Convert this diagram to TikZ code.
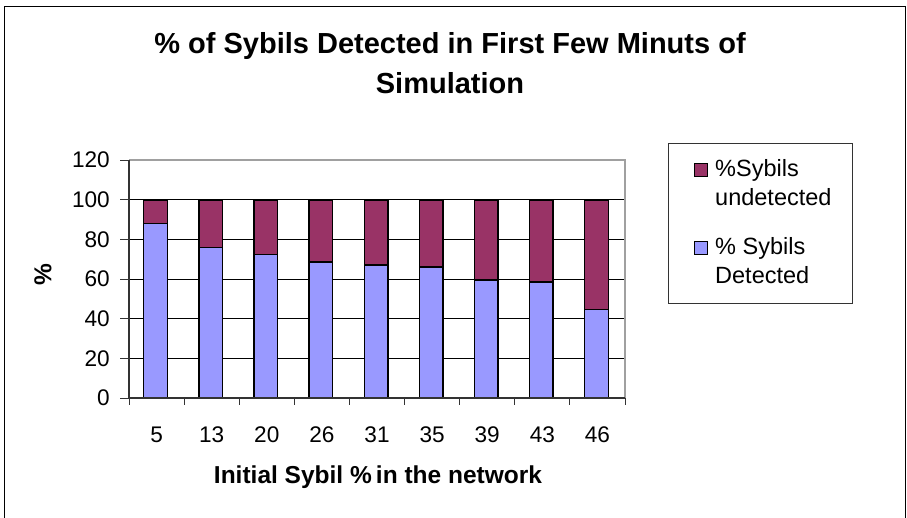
\documentclass[tikz,border=0pt]{standalone}
\usepackage{fontspec}
\setmainfont{Liberation Sans}
\definecolor{detcol}{HTML}{9999FF}
\definecolor{undcol}{HTML}{993366}
\definecolor{framegray}{HTML}{A0A0A0}
\begin{document}
\begin{tikzpicture}[x=1pt,y=-1pt,
  tick/.style={font=\fontsize{22.6}{27}\selectfont, inner sep=0pt},
  legtext/.style={font=\fontsize{23.5}{29}\selectfont, inner sep=0pt, anchor=base west},
  barbox/.style={draw=black, line width=1.4pt},
  grid/.style={draw=black, line width=0.8pt},
  axis/.style={draw=black!80, line width=1.2pt}
]
\useasboundingbox (0,0) rectangle (907,517);
\fill[white] (0,0) rectangle (907,517);
% outer chart frame
\draw[black, line width=1pt] (4.5,520) -- (4.5,6.5) -- (905.5,6.5) -- (905.5,520);
% title
\node[font=\fontsize{29}{40}\selectfont\bfseries, inner sep=0pt, anchor=base] (t1) at (450,53) {\% of Sybils Detected in First Few Minuts of};
\node[font=\fontsize{29}{40}\selectfont\bfseries, inner sep=0pt, anchor=base] (t2) at (450,93) {Simulation};
% plot area
\def\yof#1{398-1.98333*#1}
\foreach \v in {20,40,60,80,100} {
  \draw[grid] (129,{398-1.98333*\v}) -- (625,{398-1.98333*\v});
}
\draw[framegray, line width=1.2pt] (129,160) -- (625,160) -- (625,398);
% bars
\foreach \i/\d in {0/88,1/76,2/72.5,3/68.5,4/67,5/66,6/59.5,7/58.5,8/44.5} {
  \pgfmathsetmacro{\cx}{129+55.111*(\i+0.5)-1}
  \pgfmathsetmacro{\yd}{398-1.98333*\d}
  \filldraw[barbox, fill=detcol] (\cx-11.8,398) rectangle (\cx+11.8,\yd);
  \filldraw[barbox, fill=undcol] (\cx-11.8,\yd) rectangle (\cx+11.8,200.67);
}
% axes
\draw[axis] (129,160) -- (129,398) -- (625,398);
\foreach \v in {0,20,...,120} {
  \draw[axis, line width=1pt] (120,{398-1.98333*\v}) -- (129,{398-1.98333*\v});
  \node[tick, anchor=east] (yl\v) at (110,{398-1.98333*\v}) {\v};
}
\foreach \i in {0,...,9} {
  \draw[axis, line width=1pt] ({129+55.111*\i},398) -- ({129+55.111*\i},405);
}
\foreach \i/\c in {0/5,1/13,2/20,3/26,4/31,5/35,6/39,7/43,8/46} {
  \node[tick] (xl\i) at ({129+55.111*(\i+0.5)},435) {\c};
}
\node[font=\fontsize{24.5}{29}\selectfont\bfseries, inner sep=0pt] (xt) at (378,477) {Initial Sybil \%\,in the network};
\node[font=\fontsize{24.5}{29}\selectfont\bfseries, inner sep=0pt, rotate=90] (yt) at (43,275) {\%};
% legend
\draw[black!80, line width=1pt] (668,143) rectangle (852,303);
\filldraw[draw=black, line width=1pt, fill=undcol] (694,163) rectangle (707,176);
\node[legtext] (l1a) at (715,176) {\%Sybils};
\node[legtext] (l1b) at (715,205) {undetected};
\filldraw[draw=black, line width=1pt, fill=detcol] (694,241) rectangle (707,254);
\node[legtext] (l2a) at (715,254) {\% Sybils};
\node[legtext] (l2b) at (715,283) {Detected};
\end{tikzpicture}
\end{document}
